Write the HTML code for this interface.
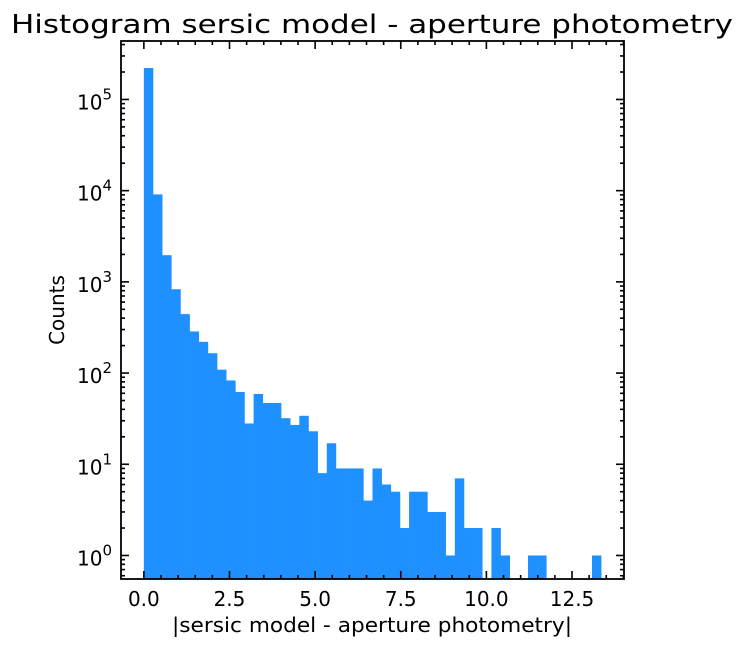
<!DOCTYPE html>
<html><head><meta charset="utf-8"><style>
body{margin:0;background:#fff;}
svg{display:block;font-family:"DejaVu Sans","Liberation Sans",sans-serif;}
</style></head><body>
<svg id="chart" width="743" height="645">
<text x="372" y="33" font-size="26" text-anchor="middle" textLength="722" lengthAdjust="spacingAndGlyphs">Histogram sersic model - aperture photometry</text>
<g id="bars"></g>
<g id="ticks"></g>
<rect x="121" y="41" width="503" height="538" fill="none" stroke="#000" stroke-width="1.8"/>
<text x="372" y="632" font-size="20" text-anchor="middle" textLength="400" lengthAdjust="spacingAndGlyphs">|sersic model - aperture photometry|</text>
<text transform="translate(64,310) rotate(-90)" font-size="20" text-anchor="middle">Counts</text>
</svg>
<script>
const binWidth = 0.267;
const counts = [221000,9100,1960,830,443,286,220,165,109,83,62,28,59,47,47,32,27,34,23,8,17,9,9,9,4,9,6,5,2,5,5,3,3,1,7,2,2,0,2,1,0,0,1,1,0,0,0,0,0,1];
const xTicks = [0,2.5,5,7.5,10,12.5];
const xTickLabels = ["0.0","2.5","5.0","7.5","10.0","12.5"];
const yDecades = [0,1,2,3,4,5];

const L=121,R=624,T=41,B=579;
const xMin=-0.6675,xMax=14.0175,lMin=-0.258,lMax=5.641;
const sx=v=>L+(v-xMin)/(xMax-xMin)*(R-L);
const sy=v=>B-(Math.log10(v)-lMin)/(lMax-lMin)*(B-T);
const NS='http://www.w3.org/2000/svg';
const bars=document.getElementById('bars'), ticks=document.getElementById('ticks');
function mk(tag,attrs,parent){const e=document.createElementNS(NS,tag);for(const k in attrs)e.setAttribute(k,attrs[k]);parent.appendChild(e);return e;}
counts.forEach((c,i)=>{
  if(c<=0)return;
  const x0=sx(i*binWidth),x1=sx((i+1)*binWidth),y=sy(c);
  const r=mk('rect',{x:x0,y:y,width:x1-x0+0.3,height:B-y,fill:'#1e90ff'},bars);
  
  
});
function line(x1,y1,x2,y2,w){mk('line',{x1,y1,x2,y2,stroke:'#000','stroke-width':w},ticks);}
for(let v=0;v<=14.01;v+=0.5){
  const x=sx(v);const major=Math.abs(v/2.5-Math.round(v/2.5))<1e-6;
  const len=major?8:4;
  line(x,B,x,B-len,1.6);line(x,T,x,T+len,1.6);
}
xTicks.forEach((v,i)=>{
  const t=mk('text',{x:sx(v),y:B+27,'font-size':20,'text-anchor':'middle'},ticks);
  t.textContent=xTickLabels[i];
  
  
});
for(let d=-1;d<=5;d++){
  for(let m=1;m<=9;m++){
    const v=m*Math.pow(10,d);const y=sy(v);
    if(y<T||y>B)continue;
    const len=m===1?8:4;
    line(L,y,L+len,y,1.6);line(R,y,R-len,y,1.6);
  }
}
yDecades.forEach(d=>{
  const y=sy(Math.pow(10,d));
  const t=mk('text',{x:L-9,y:y+10,'font-size':20,'text-anchor':'end'},ticks);
  
  
  const a=document.createElementNS(NS,'tspan');a.textContent='10';t.appendChild(a);
  const b=document.createElementNS(NS,'tspan');b.setAttribute('dy','-10');b.setAttribute('font-size','15');b.textContent=String(d);t.appendChild(b);
});
</script>
</body></html>
